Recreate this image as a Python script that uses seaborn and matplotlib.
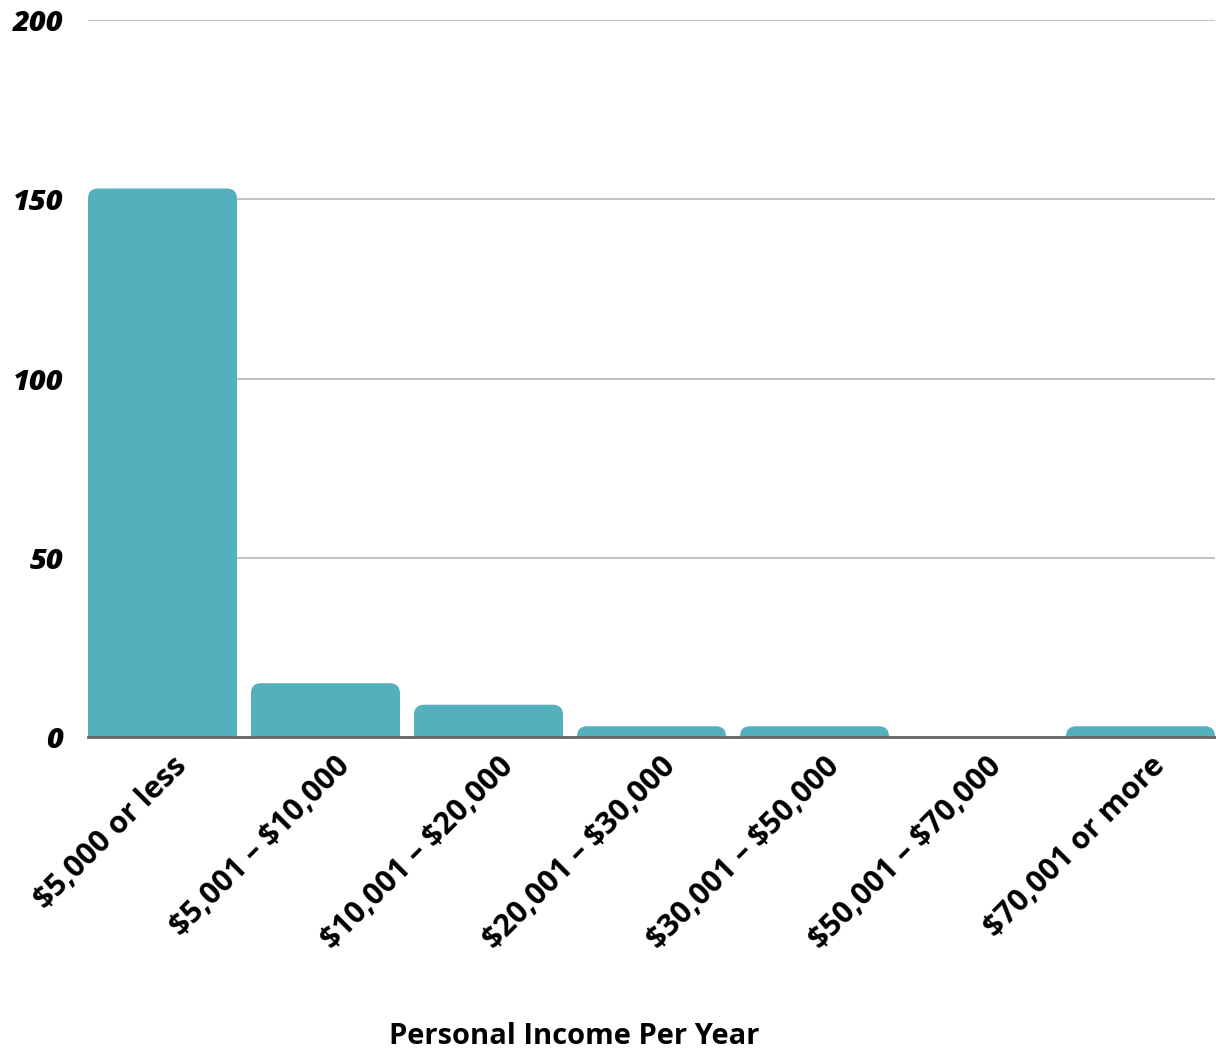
import matplotlib
matplotlib.use("Agg")
import matplotlib.pyplot as plt
import matplotlib.transforms as mtransforms
from matplotlib.patches import FancyBboxPatch
import pandas as pd
import seaborn as sns

# data
income_bands = ["$5,000 or less", "$5,001 – $10,000", "$10,001 – $20,000",
                "$20,001 – $30,000", "$30,001 – $50,000", "$50,001 – $70,000",
                "$70,001 or more"]
respondents = [153, 15, 9, 3, 3, 0, 3]
y_ticks = [0, 50, 100, 150, 200]

df = pd.DataFrame({"band": income_bands, "count": respondents})

sns.set_style("white")
plt.rcParams['font.family'] = ['Open Sans', 'DejaVu Sans']
plt.rcParams['text.parse_math'] = False
plt.rcParams['text.color'] = 'black'
plt.rcParams['xtick.color'] = 'black'
plt.rcParams['ytick.color'] = 'black'
plt.rcParams['axes.labelcolor'] = 'black'

fig = plt.figure(figsize=(12.16, 10.52), dpi=100)
ax = fig.add_axes([88/1216, 1 - 737/1052, 1127/1216, 717/1052])

bar_w = 0.914
bar_color = "#54b0bd"
sns.barplot(data=df, x="band", y="count", color=bar_color, width=bar_w,
            saturation=1, ax=ax)

# swap the plain rectangles for ones with rounded top corners
px_x = 1127 / (6 + bar_w)
px_y = 717 / 200
r_px = 10
rx = r_px / px_x
ry = r_px / px_y
for p in list(ax.patches):
    x0, w, h = p.get_x(), p.get_width(), p.get_height()
    p.remove()
    if h <= 0:
        continue
    box = FancyBboxPatch((x0, -ry), w, h + ry,
                         boxstyle=f"round,pad=0,rounding_size={rx}",
                         mutation_aspect=ry / rx,
                         facecolor=bar_color, edgecolor="none", zorder=2)
    ax.add_patch(box)

ax.set_xlim(-bar_w / 2, 6 + bar_w / 2)
ax.set_ylim(0, 200)
ax.set_yticks(y_ticks)
ax.yaxis.grid(True, color="#bdbdbd", linewidth=1.3)
ax.set_axisbelow(True)
for s in ["top", "right", "left"]:
    ax.spines[s].set_visible(False)
ax.spines["bottom"].set_color("#666666")
ax.spines["bottom"].set_linewidth(2)
ax.spines["bottom"].set_zorder(3)
ax.tick_params(axis="both", length=0)

ax.set_yticklabels([str(t) for t in y_ticks], fontsize=21, fontweight="heavy",
                   fontstyle="italic")
ax.tick_params(axis="y", pad=18)

offset = mtransforms.ScaledTranslation(0.2, -0.2, fig.dpi_scale_trans)
ax.set_xticks(range(len(income_bands)))
ax.set_xticklabels(income_bands, rotation=45, ha="right", va="center",
                   rotation_mode="anchor", fontsize=22, fontweight="bold")
for lab in ax.get_xticklabels():
    lab.set_transform(lab.get_transform() + offset)

ax.set_ylabel("")
ax.set_xlabel("Personal Income Per Year", fontsize=21, fontweight="bold",
              va="center")
ax.xaxis.set_label_coords((574 - 88) / 1127, (737 - 1037) / 717)

plt.savefig("out.png", dpi=100)
